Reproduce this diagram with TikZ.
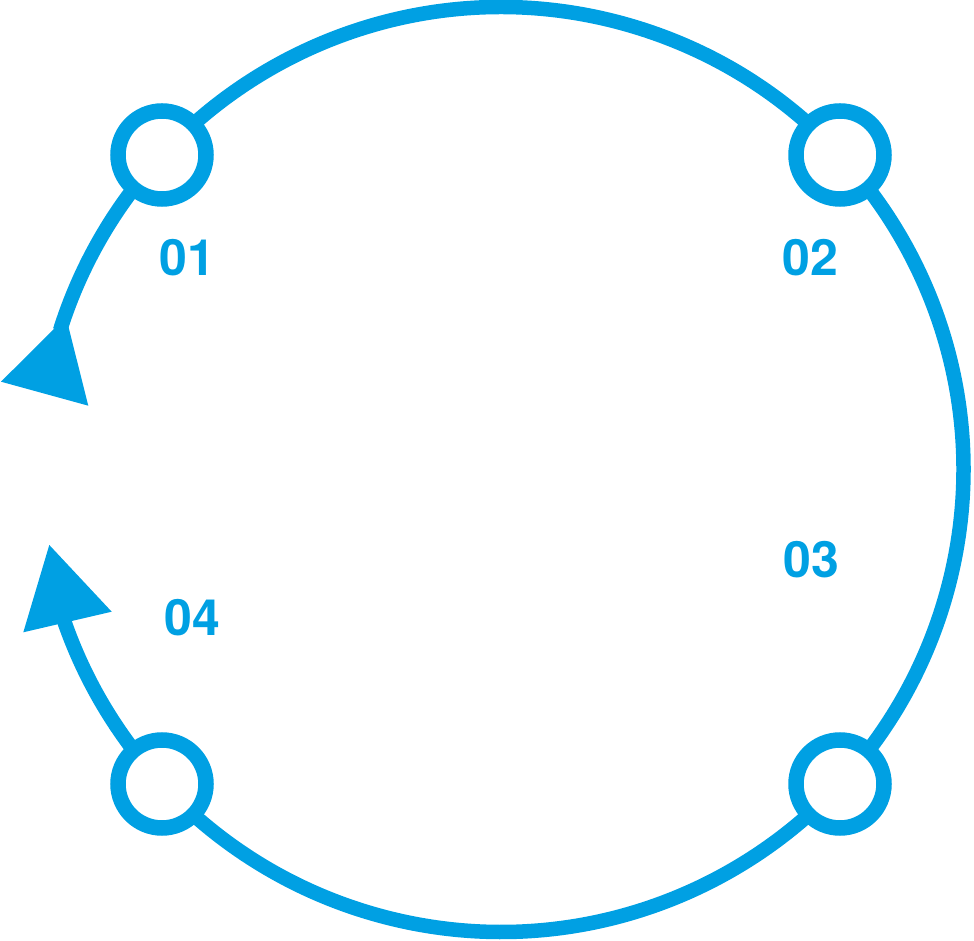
\documentclass[tikz,border=0pt]{standalone}
\usepackage{fontspec}
\setmainfont{TeX Gyre Heros}
\definecolor{cyanblue}{RGB}{0,160,227}
\begin{document}
\begin{tikzpicture}[x=1pt,y=1pt,
  ring/.style={circle, draw=cyanblue, line width=15.5pt, fill=white, minimum size=88pt, inner sep=0pt},
  lbl/.style={text=cyanblue, font=\fontsize{50}{50}\selectfont\bfseries, inner sep=0pt, anchor=center},
  loop/.style={draw=cyanblue, line width=14.5pt}]
\useasboundingbox (0,0) rectangle (974,940);
\coordinate (c) at (501,470.5);
% main loop arc (clockwise)
\draw[loop] (c) ++(162.5:462.4) arc[start angle=162.5, end angle=-161.5, radius=462.4];
% arrowheads
\coordinate (ta) at (66,623);
\coordinate (tl) at (1,558.3);
\coordinate (tr) at (88.3,534.3);
\fill[cyanblue] (ta) -- (tl) -- (tr) -- cycle;
\coordinate (ba) at (49.3,395);
\coordinate (bl) at (23.3,307.7);
\coordinate (br) at (111.7,328.3);
\fill[cyanblue] (ba) -- (bl) -- (br) -- cycle;
% stations
\node[ring] (n1) at (162,785) {};
\node[ring] (n2) at (840,785) {};
\node[ring] (n3) at (840,156) {};
\node[ring] (n4) at (162,156) {};
% labels
\node[lbl] (l1) at (187,682) {01};
\node[lbl] (l2) at (810.5,682) {02};
\node[lbl] (l3) at (811,380) {03};
\node[lbl] (l4) at (192.5,322) {04};
\end{tikzpicture}
\end{document}
